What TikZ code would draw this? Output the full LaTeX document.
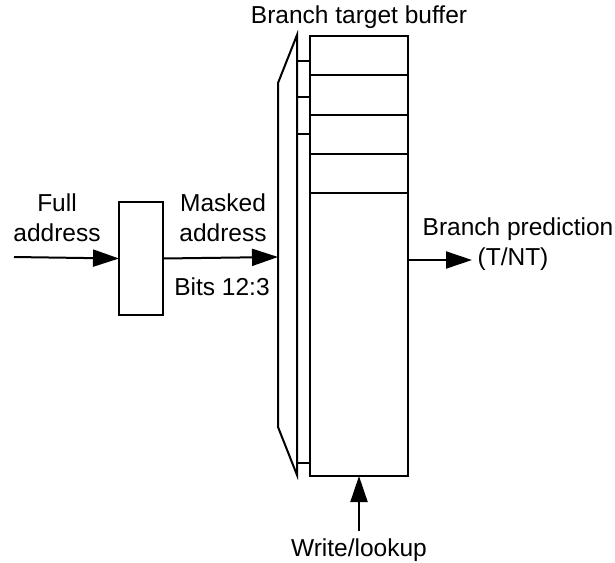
\documentclass[tikz,border=0pt]{standalone}
\usepackage{fontspec}
\setmainfont{Liberation Sans}
\usetikzlibrary{arrows.meta}
\begin{document}
\begin{tikzpicture}[x=1pt, y=-1pt, line width=2pt,
  lbl/.style={font=\fontsize{24.5}{30}\selectfont, inner sep=0pt, align=center},
  box/.style={draw, inner sep=0pt, outer sep=0pt},
  arr/.style={-{Triangle[length=26pt,width=17pt]}}]
\useasboundingbox (0,0) rectangle (615,562);

% branch target buffer with its entries
\node[box, minimum width=98pt, minimum height=440pt, anchor=north west] (btb) at (310,36) {};
\foreach \y in {75,115,154,193} \draw (310,\y) -- (408,\y);

% index decoder in front of the buffer
\draw (278,83) -- (297,35) -- (297,475) -- (278,427) -- cycle;
\foreach \y in {61,97,134,463} \draw (297,\y) -- (310,\y);
\coordinate (decin) at (278,257);

% address mask
\node[box, minimum width=44pt, minimum height=113pt] (mask) at (141,258.5) {};

% connectors
\coordinate (src) at (14,257);
\coordinate (out) at (472,260);
\coordinate (wl) at (359,531);
\draw[arr] (src) -- (mask.west);
\draw[arr] (mask.east) -- (decin);
\draw[arr] (btb.east |- out) -- (out);
\draw[arr] (wl) -- (btb.south -| wl);

% labels
\node[lbl] (lfull) at (57,218) {Full\\address};
\node[lbl] (lmask) at (223,218) {Masked\\address};
\node[lbl, anchor=base] (lbits) at (222,295) {Bits 12:3};
\node[lbl, anchor=base] (lbtb) at (359,23) {Branch target buffer};
\node[lbl] (lpred) at (518,244) {Branch prediction\\\hspace*{-10pt}(T/NT)};
\node[lbl, anchor=base] (lwl) at (359,556) {Write/lookup};
\end{tikzpicture}
\end{document}
